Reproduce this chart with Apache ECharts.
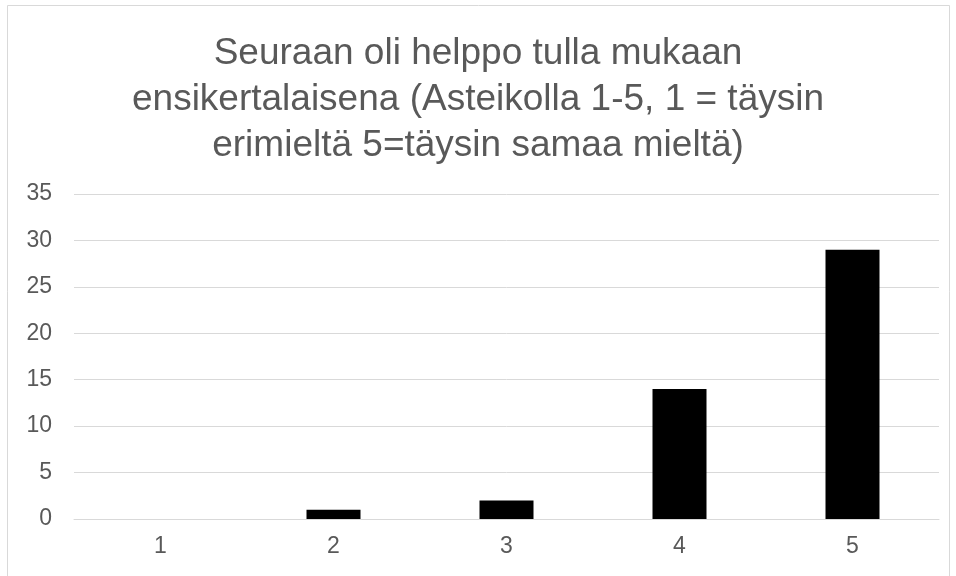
<!DOCTYPE html>
<html>
<head>
<meta charset="utf-8">
<script src="https://cdn.jsdelivr.net/npm/echarts@6/dist/echarts.min.js"></script>
<style>html,body{margin:0;padding:0;background:#fff;}#c{width:956px;height:576px;}</style>
</head>
<body>
<div id="c"></div>
<script>
const titleText = "Seuraan oli helppo tulla mukaan\nensikertalaisena (Asteikolla 1-5, 1 = täysin\nerimieltä 5=täysin samaa mieltä)";
const categories = ["1", "2", "3", "4", "5"];
const values = [0, 1, 2, 14, 29];
const yMin = 0, yMax = 35, yStep = 5;

const chart = echarts.init(document.getElementById('c'), null, {renderer: 'canvas'});
const font = "Liberation Sans";
chart.setOption({
  animation: false,
  backgroundColor: '#fff',
  graphic: [{
    type: 'rect', shape: {x: 7.5, y: 5.5, width: 942, height: 580},
    style: {fill: 'none', stroke: '#d9d9d9', lineWidth: 1}, silent: true
  }],
  title: {
    text: titleText, left: 'center', top: 26,
    textStyle: {fontFamily: font, fontSize: 37, fontWeight: 'normal', color: '#595959', lineHeight: 46}
  },
  grid: {left: 74, right: 17, top: 194, bottom: 57, containLabel: false},
  xAxis: {
    type: 'category', data: categories,
    axisLine: {lineStyle: {color: '#d9d9d9', width: 1}},
    axisTick: {show: false},
    axisLabel: {fontFamily: font, fontSize: 23, color: '#595959', margin: 16}
  },
  yAxis: {
    type: 'value', min: yMin, max: yMax, interval: yStep,
    axisLine: {show: false}, axisTick: {show: false},
    splitLine: {lineStyle: {color: '#d9d9d9', width: 1}},
    axisLabel: {fontFamily: font, fontSize: 23, color: '#595959', margin: 22}
  },
  series: [{
    type: 'bar', data: values, barWidth: 54,
    itemStyle: {color: '#000'}
  }]
});
</script>
</body>
</html>
